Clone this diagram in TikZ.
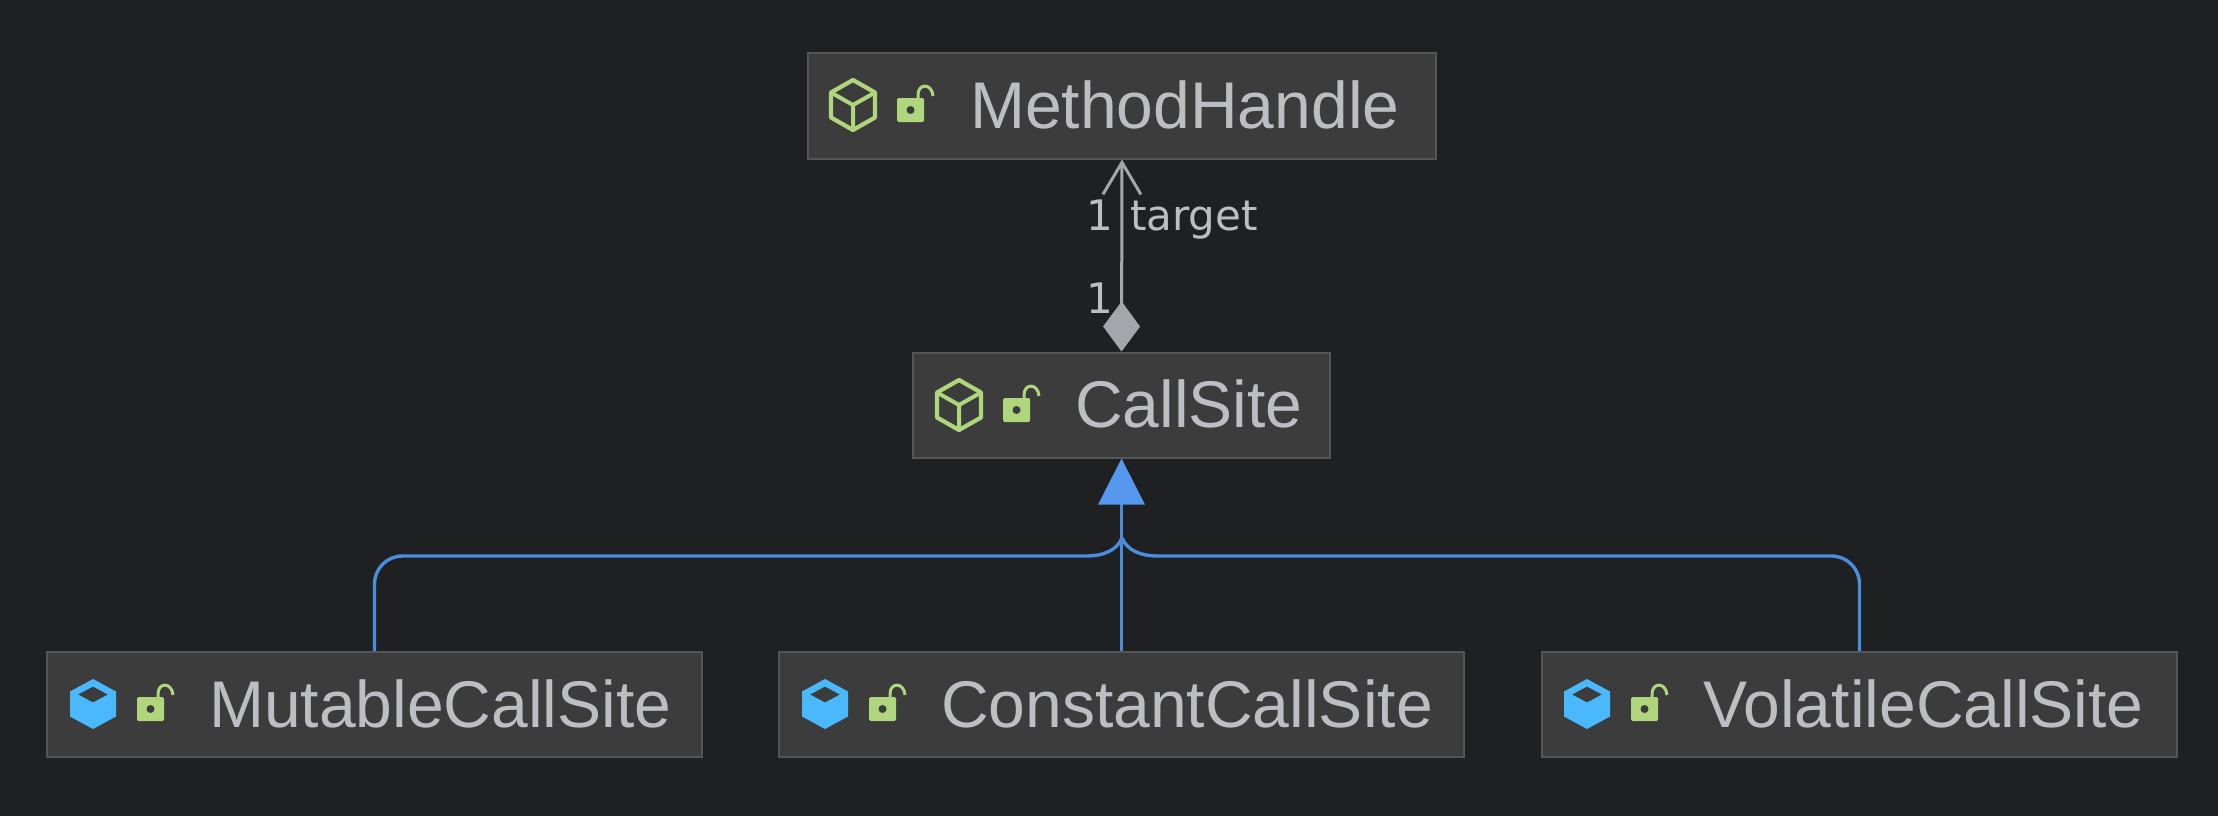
\documentclass[tikz,border=0pt]{standalone}
\usepackage{fontspec}
\setmainfont{Liberation Sans}
\newfontfamily\multfont{DejaVu Sans}
\usetikzlibrary{arrows.meta}
\definecolor{bgc}{HTML}{1E2022}
\definecolor{boxc}{HTML}{3C3C3D}
\definecolor{edgec}{HTML}{555556}
\definecolor{textc}{HTML}{BCBEC4}
\definecolor{assocc}{HTML}{A4A6AB}
\definecolor{inhc}{HTML}{4A8DDC}
\definecolor{tipc}{HTML}{5598EE}
\definecolor{greenc}{HTML}{AFD67C}
\definecolor{solidc}{HTML}{4AB9FB}
\tikzset{
  classbox/.style={draw=edgec,line width=2pt,fill=boxc,minimum height=105pt,inner sep=0pt},
  classlabel/.style={anchor=base west,inner sep=0pt,text=textc,font=\fontsize{66}{66}\selectfont},
  multlabel/.style={anchor=base west,inner sep=0pt,text=textc,font=\multfont\fontsize{42}{42}\selectfont},
  inhline/.style={draw=inhc,line width=3.4pt},
  assocline/.style={draw=assocc,line width=3pt},
  lockicon/.pic={
    \fill[greenc,rounded corners=1.5pt] (44,-7) rectangle (71,17);
    \fill[boxc] (57.5,5) circle (4pt);
    \draw[greenc,line width=3pt] (65,-7) -- (65,-10) .. controls (65,-22) and (79,-22) .. (80,-9);
  },
  outlinecube/.pic={
    \draw[greenc,line width=4.2pt,line join=round] (0,-25) -- (22,-12.5) -- (22,12.5) -- (0,25) -- (-22,12.5) -- (-22,-12.5) -- cycle;
    \draw[greenc,line width=4pt,line join=round] (-22,-12.5) -- (0,0) -- (22,-12.5) (0,0) -- (0,25);
    \pic {lockicon};
  },
  solidcube/.pic={
    \fill[solidc,even odd rule,line join=round] (0,-25) -- (23,-12.5) -- (23,12.5) -- (0,25) -- (-23,12.5) -- (-23,-12.5) -- cycle
      (0,-17.5) -- (15,-9.5) -- (0,-1.5) -- (-15,-9.5) -- cycle;
    \pic {lockicon};
  }
}
\begin{document}
\begin{tikzpicture}[x=1pt,y=-1pt]
\useasboundingbox[fill=bgc] (0,0) rectangle (2218,816);
% class boxes
\node[classbox,minimum width=628pt] (mh) at (1122,106) {};
\node[classbox,minimum width=417pt] (cs) at (1121.5,405) {};
\node[classbox,minimum width=655pt] (mcs) at (374.5,704.5) {};
\node[classbox,minimum width=685pt] (ccs) at (1121.5,704.5) {};
\node[classbox,minimum width=635pt] (vcs) at (1859.5,704.5) {};
% icons
\pic at (853,105) {outlinecube};
\pic at (959,405) {outlinecube};
\pic at (93,704) {solidcube};
\pic at (825,704) {solidcube};
\pic at (1587,704) {solidcube};
% names
\node[classlabel] (mhl) at (970,128) {MethodHandle};
\node[classlabel] (csl) at (1075,427) {CallSite};
\node[classlabel] (mcsl) at (209,727) {MutableCallSite};
\node[classlabel] (ccsl) at (941,727) {ConstantCallSite};
\node[classlabel] (vcsl) at (1703,727) {VolatileCallSite};
% inheritance connectors
\coordinate (j) at (1122,538);
\coordinate (lb) at (1086,556);
\coordinate (rb) at (1158,556);
\draw[inhline,rounded corners=28pt] (mcs.north) -- (mcs.north |- lb) -- (lb);
\draw[inhline] (lb) .. controls (1104,556) and (1117,550) .. (j);
\draw[inhline,rounded corners=28pt] (vcs.north) -- (vcs.north |- rb) -- (rb);
\draw[inhline] (rb) .. controls (1140,556) and (1127,550) .. (j);
\draw[inhline,-{Triangle[length=46pt,width=46pt,color=tipc]}] (ccs.north) -- (cs.south);
% association
\draw[assocline,{Diamond[length=50pt,width=37pt,fill=assocc]}-{Straight Barb[length=32pt,width=38pt,line width=3pt]}] (cs.north) -- (mh.south);
\node[multlabel] (m1) at (1086,230) {1};
\node[multlabel] (tg) at (1130,230) {target};
\node[multlabel] (m2) at (1086,313) {1};
\end{tikzpicture}
\end{document}
